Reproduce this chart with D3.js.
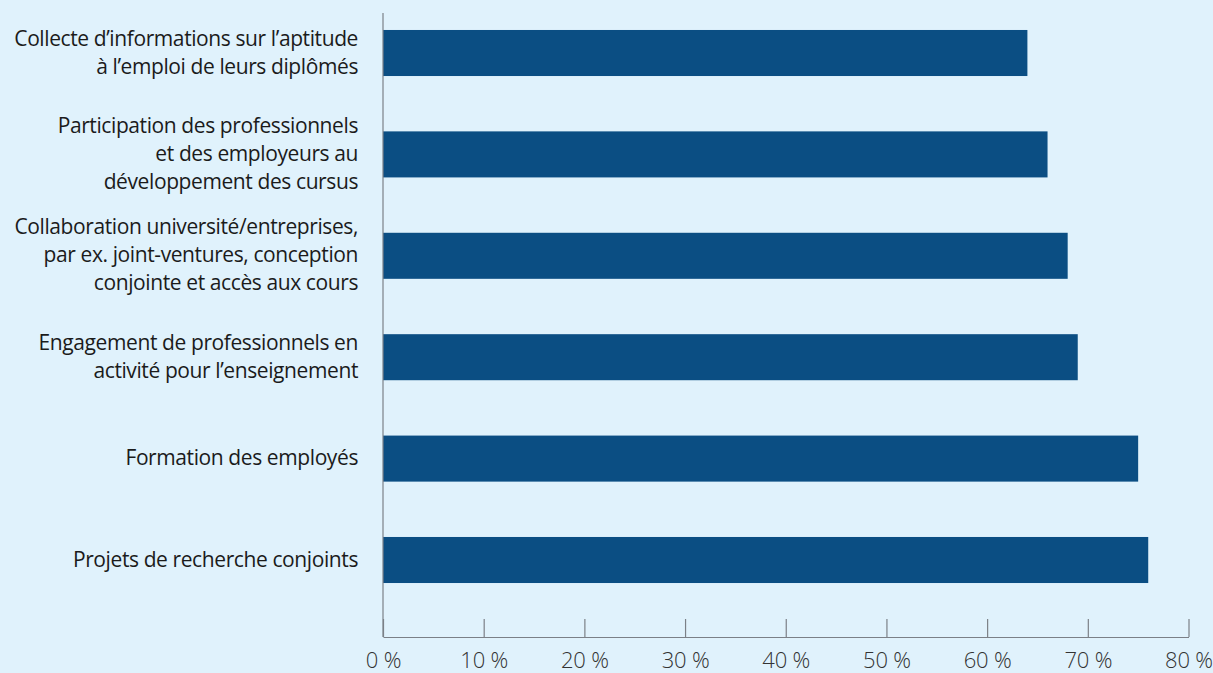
<!DOCTYPE html>
<html>
<head>
<meta charset="utf-8">
<script src="https://cdn.jsdelivr.net/npm/d3@7"></script>
<style>
  html, body { margin: 0; padding: 0; background: #e0f2fc; }
  svg { display: block; }
</style>
</head>
<body>
<svg id="chart" width="1213" height="673"></svg>
<script>
// Labels (one entry per line) and shares in percent
const categories = [
  ["Collecte d\u2019informations sur l\u2019aptitude", "\u00e0 l\u2019emploi de leurs dipl\u00f4m\u00e9s"],
  ["Participation des professionnels", "et des employeurs au", "d\u00e9veloppement des cursus"],
  ["Collaboration universit\u00e9/entreprises,", "par ex. joint-ventures, conception", "conjointe et acc\u00e8s aux cours"],
  ["Engagement de professionnels en", "activit\u00e9 pour l\u2019enseignement"],
  ["Formation des employ\u00e9s"],
  ["Projets de recherche conjoints"]
];
const values = [64, 66, 68, 69, 75, 76];
const tickValues = [0, 10, 20, 30, 40, 50, 60, 70, 80];

const W = 1213, H = 673;
const svg = d3.select("#chart");
svg.append("rect").attr("width", W).attr("height", H).attr("fill", "#e0f2fc");

const x = d3.scaleLinear().domain([0, 80]).range([383, 1188.5]);
const ids = d3.range(categories.length);
const y = d3.scaleBand().domain(ids).range([2.3, 610.7])
  .paddingInner(0.546).paddingOuter(0.273);

const font = "'Open Sans', sans-serif";

// Bars
svg.append("g").selectAll("rect").data(ids).join("rect")
  .attr("x", x(0))
  .attr("y", i => y(i))
  .attr("width", i => x(values[i]) - x(0))
  .attr("height", y.bandwidth())
  .attr("fill", "#0b4e83");

// Category labels, right aligned against the axis
const lh = 28;
const lab = svg.append("g").attr("font-family", font).attr("font-size", 21)
  .attr("fill", "#1b1b1b").attr("text-anchor", "end").attr("letter-spacing", "-0.4");
ids.forEach(i => {
  const lines = categories[i];
  const cy = y(i) + y.bandwidth() / 2;
  const t = lab.append("text").attr("x", 358);
  lines.forEach((ln, k) => {
    t.append("tspan").attr("x", 358)
      .attr("y", cy + 6.5 + (k - (lines.length - 1) / 2) * lh)
      .text(ln);
  });
});

// Vertical baseline
svg.append("line").attr("x1", x(0)).attr("x2", x(0)).attr("y1", 13).attr("y2", 637)
  .attr("stroke", "#7b8087").attr("stroke-width", 1.2);

// Bottom axis with upward ticks
const axis = svg.append("g").attr("transform", "translate(0,637)")
  .call(d3.axisBottom(x).tickValues(tickValues).tickSize(-18).tickSizeOuter(0)
    .tickFormat(d => d + "\u00a0%"));
axis.select(".domain").attr("stroke", "#7b8087").attr("stroke-width", 1.2);
axis.selectAll(".tick line").attr("stroke", "#7b8087").attr("stroke-width", 1.2);
axis.selectAll(".tick text")
  .attr("y", 0).attr("dy", 31)
  .attr("font-family", font).attr("font-size", 22).attr("font-weight", 300)
  .attr("fill", "#333").attr("letter-spacing", "-0.2");
</script>
</body>
</html>
